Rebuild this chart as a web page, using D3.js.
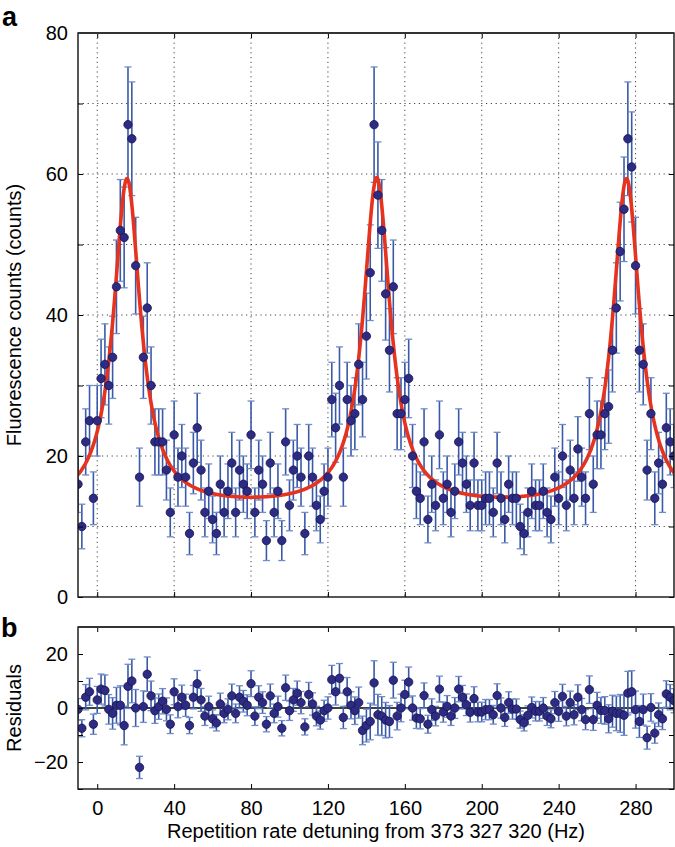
<!DOCTYPE html>
<html><head><meta charset="utf-8">
<script src="https://cdn.jsdelivr.net/npm/d3@7"></script>
<style>
body{margin:0;background:#fff}
svg{display:block}
text{font-family:"Liberation Sans",Arial,Helvetica,sans-serif;fill:#000}
</style>
</head><body>
<svg id="chart" width="675" height="847"></svg>
<script>
// ---------- data ----------
const detuning = [
 -10,-8,-6,-4,-2,0,2,4,6,8,10,12,14,16,18,20,22,24,26,28,30,32,34,36,38,40,42,44,46,48,
 50,52,54,56,58,60,62,64,66,68,70,72,74,76,78,80,82,84,86,88,90,92,94,96,98,100,102,104,106,108,
 110,112,114,116,118,120,122,124,126,128,130,132,134,136,138,140,142,144,146,148,150,152,154,156,158,160,162,164,166,168,
 170,172,174,176,178,180,182,184,186,188,190,192,194,196,198,200,202,204,206,208,210,212,214,216,218,220,222,224,226,228,
 230,232,234,236,238,240,242,244,246,248,250,252,254,256,258,260,262,264,266,268,270,272,274,276,278,280,282,284,286,288,
 290,292,294,296,298,300];
const counts = [
 16,10,22,25,14,25,31,33,30,34,44,52,51,67,65,47,17,34,41,30,22,22,22,18,12,23,17,20,17,9,
 19,24,18,12,15,11,9,16,12,15,19,12,18,16,15,23,12,18,16,8,19,12,15,8,22,13,18,20,17,9,
 20,17,13,11,15,17,28,24,30,17,28,25,26,33,28,37,46,67,57,52,43,35,44,26,26,28,31,20,15,14,
 22,11,16,13,23,14,16,12,15,22,19,16,13,19,13,13,14,14,12,19,14,11,16,14,14,10,9,12,15,13,
 13,15,12,11,17,14,20,13,18,14,21,17,14,26,16,23,23,26,27,35,41,49,55,65,61,47,35,33,18,26,
 14,19,16,24,22,20];
const residuals = [
 -0.5,-7.5,4,6,-6,3,7,6.5,-0.5,-2,1,1,-6.5,8,10,0,-22,0.5,12.5,4.5,-1,0.5,2.5,-0.5,-6,6,0.5,4,1,-6.5,
 4,9,3,-3,0.5,-4,-5.5,1.5,-2,-0.5,4.5,-2,4,2.5,1,9,-3,4,2,-6,4.5,-2,0.5,-7.5,7.5,-1,3,5.5,2,-7,
 5,1.5,-3,-4.5,-1,0,10.5,6,11,-3.5,6,1,-1,2,-8.3,-6.5,-5,9.3,-2.5,-3,-4.5,-5,10.3,-3,0,5,9.6,0,-3.7,-4,
 4.6,-6,-0.6,-3,7,-1.5,0.6,-3,0,7,4,1.2,-1.6,3.5,-1.5,-1.5,-0.6,-0.6,-2.5,4.6,0,-3.5,2,-0.4,-0.4,-4.3,-5.5,-2.7,0.2,-1.2,
 -1.2,0,-3,-4,2,-1.2,4.3,-3,2,-2.5,4,-0.6,-4.3,6.8,-4.3,1,-0.9,-0.9,-4,-1.2,-2,-2,-2.7,5.5,6,-0.6,-5,-0.6,-11,0.2,
 -9.3,-2.5,-4,5.2,4,2.7];
// Lorentzian fit parameters (peak centres, half width, amplitude, baseline)
const fitCentres = [15.5, 145.4, 275.3];
const fitHalfWidth = [8.5];
const fitAmplitude = [46.6];
const fitBaseline = [12.5];
// axis ticks
const xTicks = [0,40,80,120,160,200,240,280];
const yTopTicks = [0,10,20,30,40,50,60,70,80];
const yTopLabels = [0,20,40,60,80];
const yBotTicks = [-30,-20,-10,0,10,20,30];
const yBotLabels = [-20,0,20];
const xTitle = "Repetition rate detuning from 373 327 320 (Hz)";
const yTopTitle = "Fluorescence counts (counts)";
const yBotTitle = "Residuals";

// ---------- layout ----------
const L = 78, R = 674;
const topP = {t: 33, b: 597};
const botP = {t: 627, b: 789};
const FS = 20;

const svg = d3.select("#chart");
const x = d3.scaleLinear().domain([-10, 300]).range([L, R]);
const yT = d3.scaleLinear().domain([0, 80]).range([topP.b, topP.t]);
const yB = d3.scaleLinear().domain([-30, 30]).range([botP.b, botP.t]);

const defs = svg.append("defs");
defs.append("clipPath").attr("id","clipTop").append("rect")
  .attr("x", L).attr("y", topP.t).attr("width", R-L).attr("height", topP.b-topP.t);
defs.append("clipPath").attr("id","clipBot").append("rect")
  .attr("x", L).attr("y", botP.t).attr("width", R-L).attr("height", botP.b-botP.t);

const data = detuning.map((d,i)=>({x:d, c:counts[i], r:residuals[i], e:Math.sqrt(counts[i])}));

const errCol = "#3a5aa8", capCol = "#6f8bc8", dotFill = "#2e2b84", dotStroke = "#16144d";
const DOT_R = 4.2;

// ---------- top panel ----------
const gT = svg.append("g");
// grid
gT.append("g").selectAll("line").data(xTicks).join("line")
  .attr("x1", d=>x(d)).attr("x2", d=>x(d)).attr("y1", topP.t).attr("y2", topP.b)
  .attr("stroke","#444").attr("stroke-width",1).attr("stroke-dasharray","1.2,3.6");
gT.append("g").selectAll("line").data(yTopTicks.slice(1,-1)).join("line")
  .attr("x1", L).attr("x2", R).attr("y1", d=>yT(d)).attr("y2", d=>yT(d))
  .attr("stroke","#444").attr("stroke-width",1).attr("stroke-dasharray","1.2,3.6");

function axes(g, y, yTicks, yLabels, top, bottom, showX){
  const fmtY = d => yLabels.includes(d) ? d3.format("")(d) : "";
  const aL = g.append("g").attr("transform",`translate(${L},0)`)
    .call(d3.axisLeft(y).tickValues(yTicks).tickSize(-5).tickSizeOuter(0).tickPadding(10).tickFormat(fmtY));
  const aR = g.append("g").attr("transform",`translate(${R},0)`)
    .call(d3.axisRight(y).tickValues(yTicks).tickSize(-5).tickSizeOuter(0).tickFormat(""));
  const aB = g.append("g").attr("transform",`translate(0,${bottom})`)
    .call(d3.axisBottom(x).tickValues(xTicks).tickSize(-5).tickSizeOuter(0).tickPadding(12)
      .tickFormat(showX ? d3.format("") : ""));
  const aT = g.append("g").attr("transform",`translate(0,${top})`)
    .call(d3.axisTop(x).tickValues(xTicks).tickSize(-5).tickSizeOuter(0).tickFormat(""));
  [aL,aR,aB,aT].forEach(a=>{
    a.select(".domain").remove();
    a.selectAll(".tick line").attr("stroke","#000").attr("stroke-width",1);
    a.selectAll("text").attr("font-size",FS).attr("font-family",'"Liberation Sans",Arial,sans-serif').attr("fill","#000");
  });
  g.append("rect").attr("x",L).attr("y",top).attr("width",R-L).attr("height",bottom-top)
    .attr("fill","none").attr("stroke","#111").attr("stroke-width",1.4);
  g.append("line").attr("x1",L).attr("x2",R).attr("y1",top).attr("y2",top)
    .attr("stroke","#333").attr("stroke-width",2);
}

// fit curve
const xs = d3.range(-10, 300.001, 0.25);
const fit = v => fitBaseline[0] + fitAmplitude[0]*d3.sum(fitCentres, c => {
  const g = fitHalfWidth[0]; return g*g/((v-c)*(v-c)+g*g);
});

const plotT = gT.append("g").attr("clip-path","url(#clipTop)");
function drawPoints(g, yS, key){
  const eg = g.append("g");
  eg.selectAll("line.v").data(data).join("line").attr("class","v")
    .attr("x1",d=>x(d.x)).attr("x2",d=>x(d.x))
    .attr("y1",d=>yS(d[key]-d.e)).attr("y2",d=>yS(d[key]+d.e))
    .attr("stroke",errCol).attr("stroke-width",1.6);
  ["-","+"].forEach(s=>{
    eg.selectAll("line.c"+(s==="-"?"m":"p")).data(data).join("line").attr("class","c"+(s==="-"?"m":"p"))
      .attr("x1",d=>x(d.x)-3.5).attr("x2",d=>x(d.x)+3.5)
      .attr("y1",d=>yS(s==="-"?d[key]-d.e:d[key]+d.e)).attr("y2",d=>yS(s==="-"?d[key]-d.e:d[key]+d.e))
      .attr("stroke",capCol).attr("stroke-width",1.3);
  });
  return eg;
}
drawPoints(plotT, yT, "c");
plotT.append("path").datum(xs)
  .attr("d", d3.line().x(v=>x(v)).y(v=>yT(fit(v))).curve(d3.curveLinear))
  .attr("fill","none").attr("stroke","#e5331f").attr("stroke-width",3.6).attr("stroke-linejoin","round");
plotT.append("g").selectAll("circle").data(data).join("circle")
  .attr("cx",d=>x(d.x)).attr("cy",d=>yT(d.c)).attr("r",DOT_R)
  .attr("fill",dotFill).attr("stroke",dotStroke).attr("stroke-width",0.8);
axes(gT, yT, yTopTicks, yTopLabels, topP.t, topP.b, false);

// ---------- bottom panel ----------
const gB = svg.append("g");
const plotB = gB.append("g").attr("clip-path","url(#clipBot)");
plotB.append("line").attr("x1",L).attr("x2",R).attr("y1",yB(0)).attr("y2",yB(0))
  .attr("stroke","#000").attr("stroke-width",1.6);
drawPoints(plotB, yB, "r");
plotB.append("g").selectAll("circle").data(data).join("circle")
  .attr("cx",d=>x(d.x)).attr("cy",d=>yB(d.r)).attr("r",DOT_R)
  .attr("fill",dotFill).attr("stroke",dotStroke).attr("stroke-width",0.8);
axes(gB, yB, yBotTicks, yBotLabels, botP.t, botP.b, true);

// ---------- titles ----------
svg.append("text").attr("x",(L+R)/2).attr("y",838).attr("text-anchor","middle")
  .attr("font-size",FS).text(xTitle);
svg.append("text").attr("transform",`translate(21,${(topP.t+topP.b)/2}) rotate(-90)`)
  .attr("text-anchor","middle").attr("font-size",FS).text(yTopTitle);
svg.append("text").attr("transform",`translate(21,${(botP.t+botP.b)/2}) rotate(-90)`)
  .attr("text-anchor","middle").attr("font-size",FS).text(yBotTitle);
svg.append("text").attr("x",2).attr("y",26).attr("font-size",27).attr("font-weight","bold").text("a");
svg.append("text").attr("x",1).attr("y",637).attr("font-size",27).attr("font-weight","bold").text("b");
</script>
</body></html>
